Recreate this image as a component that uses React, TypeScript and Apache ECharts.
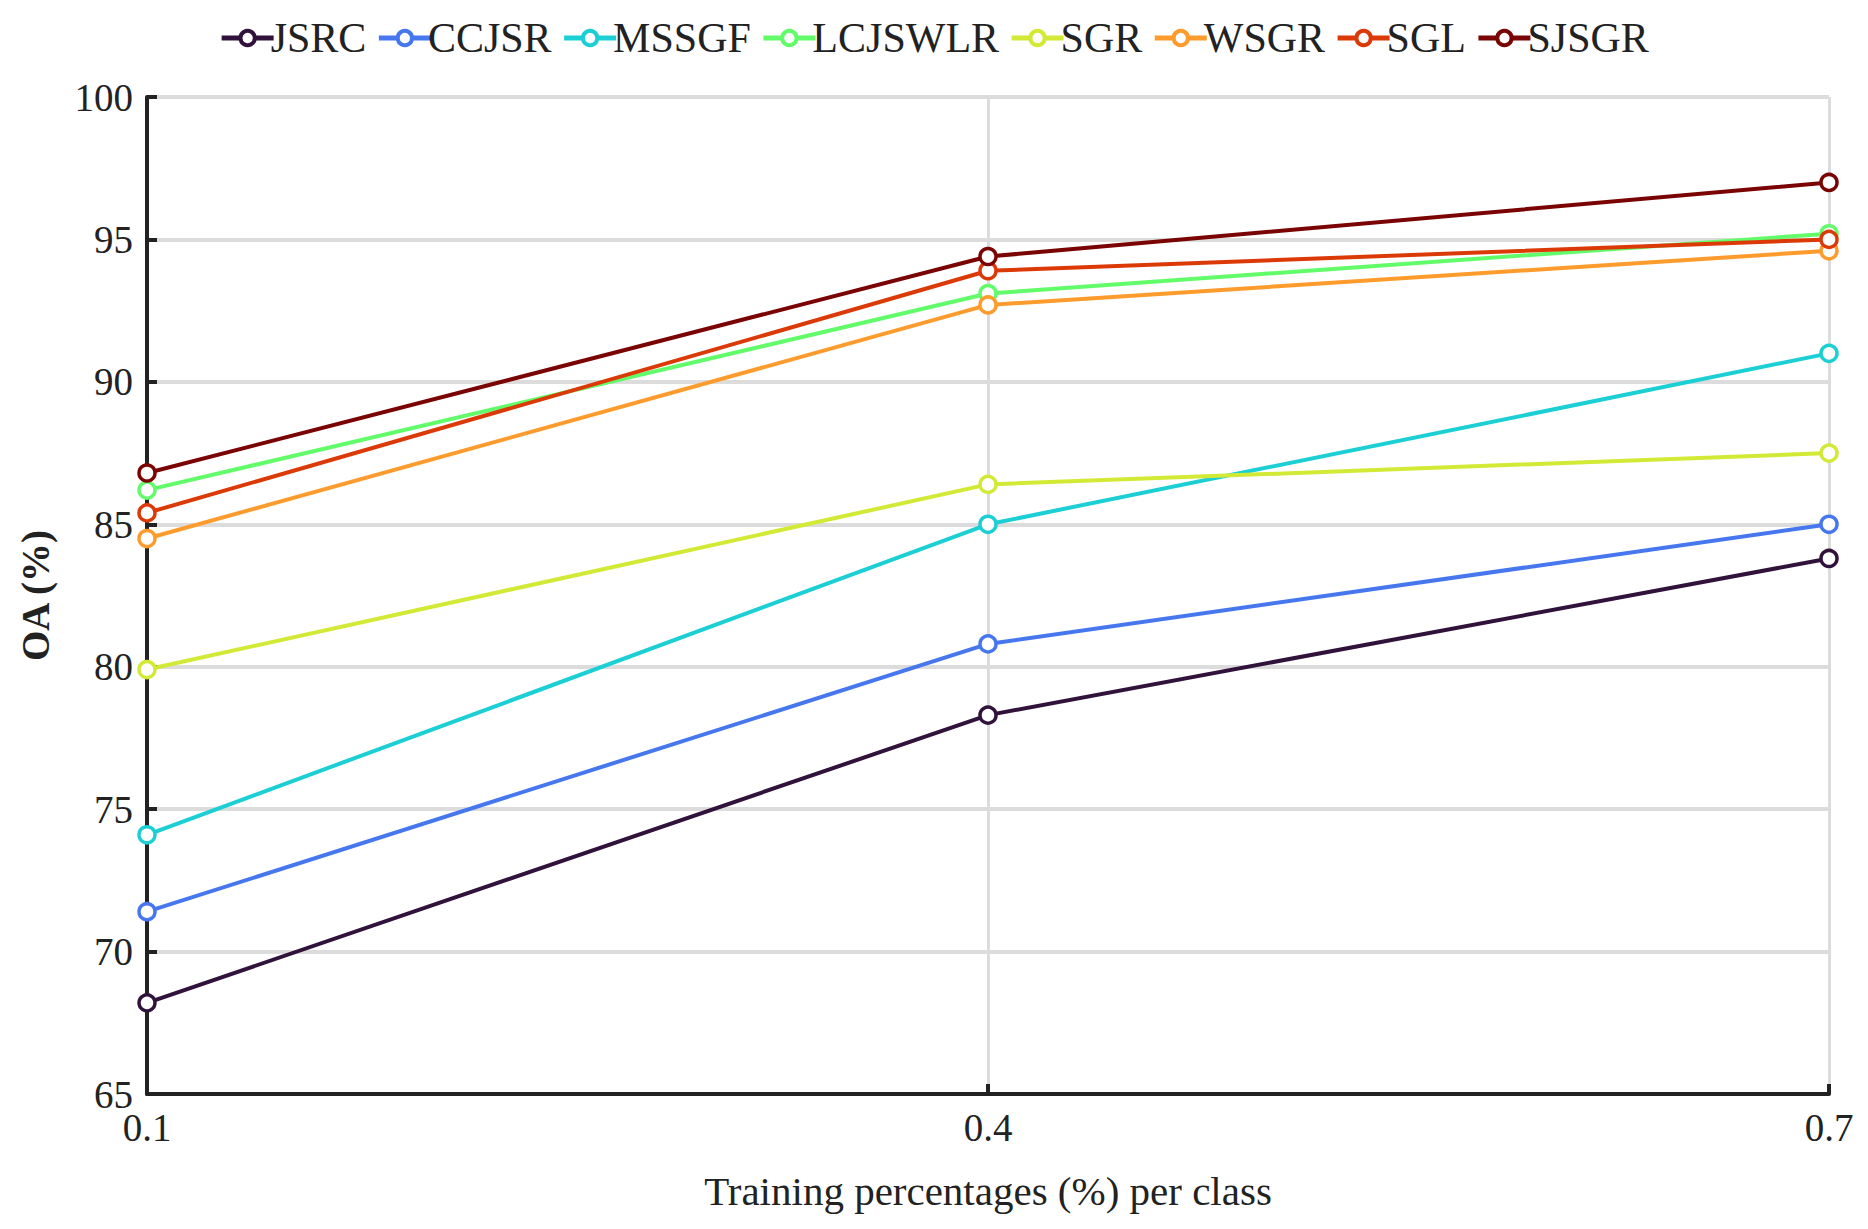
import React, { useEffect, useRef } from "react";
import * as echarts from "echarts";

const categories = ["0.1", "0.4", "0.7"];
const seriesNames = ["JSRC", "CCJSR", "MSSGF", "LCJSWLR", "SGR", "WSGR", "SGL", "SJSGR"];
const JSRC = [68.2, 78.3, 83.8];
const CCJSR = [71.4, 80.8, 85.0];
const MSSGF = [74.1, 85.0, 91.0];
const LCJSWLR = [86.2, 93.1, 95.2];
const SGR = [79.9, 86.4, 87.5];
const WSGR = [84.5, 92.7, 94.6];
const SGL = [85.4, 93.9, 95.0];
const SJSGR = [86.8, 94.4, 97.0];
const values = [JSRC, CCJSR, MSSGF, LCJSWLR, SGR, WSGR, SGL, SJSGR];
const colors = ["#30123b", "#4777ef", "#1bcfd4", "#62fc6b", "#d2e935", "#fe9b2d", "#db3a07", "#7a0403"];

const font = "Liberation Serif";

export default function App() {
  const ref = useRef<HTMLDivElement>(null);
  useEffect(() => {
    const chart = echarts.init(ref.current!, undefined, { renderer: "svg" });
    chart.setOption({
      animation: false,
      backgroundColor: "#fff",
      textStyle: { fontFamily: font },
      legend: {
        top: 4,
        left: "center",
        itemGap: 10,
        itemWidth: 52,
        itemHeight: 18,
        lineStyle: { width: 5 },
        itemStyle: { borderWidth: 4 },
        textStyle: { fontFamily: font, fontSize: 42, color: "#222", padding: [0, 0, 0, -8] },
        data: seriesNames,
      },
      grid: { left: 136, right: 31, top: 89, bottom: 127 },
      xAxis: {
        type: "category",
        data: categories,
        boundaryGap: false,
        name: "Training percentages (%) per class",
        nameLocation: "middle",
        nameGap: 76,
        nameTextStyle: { fontFamily: font, fontSize: 41, color: "#222" },
        axisLine: { lineStyle: { color: "#222", width: 4 } },
        axisTick: { inside: true, length: 10, lineStyle: { color: "#222", width: 4 } },
        axisLabel: { fontFamily: font, fontSize: 39, color: "#222", margin: 14 },
        splitLine: { show: true, lineStyle: { color: "#dcdcdc", width: 3 } },
      },
      yAxis: {
        type: "value",
        min: 65,
        max: 100,
        interval: 5,
        name: "OA (%)",
        nameLocation: "middle",
        nameGap: 92,
        nameTextStyle: { fontFamily: font, fontSize: 39, color: "#222", fontWeight: "bold" },
        axisLine: { show: true, lineStyle: { color: "#222", width: 4 } },
        axisTick: { show: true, inside: true, length: 10, lineStyle: { color: "#222", width: 4 } },
        axisLabel: { fontFamily: font, fontSize: 39, color: "#222", margin: 14 },
        splitLine: { show: true, lineStyle: { color: "#dcdcdc", width: 4 } },
      },
      series: seriesNames.map((n, i) => ({
        name: n,
        type: "line",
        data: values[i],
        color: colors[i],
        symbol: "circle",
        symbolSize: 16,
        lineStyle: { width: 4, color: colors[i] },
        itemStyle: { color: "#fff", borderColor: colors[i], borderWidth: 3.5 },
        z: 2 + i,
      })),
    });
    return () => chart.dispose();
  }, []);
  return <div ref={ref} style={{ width: 1852, height: 1213 }} />;
}
